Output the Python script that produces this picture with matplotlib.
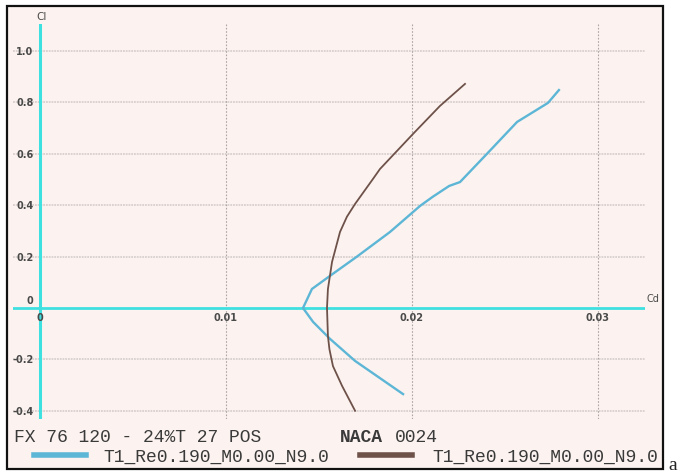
import matplotlib
matplotlib.use("Agg")
import matplotlib.pyplot as plt
from matplotlib.patches import Rectangle
from matplotlib.lines import Line2D

# ---- data ----
cd_fx = [0.01952, 0.01694, 0.01559, 0.01468, 0.01414, 0.01462, 0.01559, 0.01704,
         0.01882, 0.02043, 0.02110, 0.02200, 0.02258, 0.02403, 0.02565, 0.02731, 0.02790]
cl_fx = [-0.335, -0.206, -0.120, -0.054, 0.0, 0.074, 0.125, 0.200,
         0.296, 0.397, 0.432, 0.475, 0.490, 0.600, 0.724, 0.798, 0.848]

cd_naca = [0.01694, 0.01624, 0.01575, 0.01556, 0.01548, 0.01543, 0.01548, 0.01570,
           0.01613, 0.01650, 0.01694, 0.01790, 0.01828, 0.02005, 0.02150, 0.02285]
cl_naca = [-0.400, -0.303, -0.226, -0.160, -0.109, 0.0, 0.074, 0.179,
           0.296, 0.355, 0.405, 0.502, 0.541, 0.677, 0.786, 0.872]

xticks = [0.01, 0.02, 0.03]
xtick_labels = ["0.01", "0.02", "0.03"]
yticks = [-0.4, -0.2, 0.2, 0.4, 0.6, 0.8, 1.0]
ytick_labels = ["-0.4", "-0.2", "0.2", "0.4", "0.6", "0.8", "1.0"]

title_fx = "FX 76 120 - 24%T 27 POS"
title_naca_a = "NACA"
title_naca_b = "0024"
legend_label = "T1_Re0.190_M0.00_N9.0"

# ---- style ----
W, H = 679, 477
bg = "#FCF3F0"
blue = "#5DB6D6"
brown = "#6E524A"
cyan = "#3FE0E0"
gridh = "#D2CACA"
gridv = "#ADA5A5"
tickc = "#4A4A4A"

fig = plt.figure(figsize=(W / 100, H / 100), dpi=100)
fig.patch.set_facecolor("white")

def fx(px):
    return px / W

def fy(py):
    return 1 - py / H

# outer frame
frame = Rectangle((fx(7), fy(470)), fx(663) - fx(7), fy(7) - fy(470),
                  transform=fig.transFigure, facecolor=bg, edgecolor="#111111",
                  linewidth=1.6, zorder=-5)
fig.patches.append(frame)

# axes area in pixels
L, R, T, B = 13, 645, 25, 420
ax = fig.add_axes([fx(L), fy(B), (R - L) / W, (B - T) / H])
ax.set_zorder(2)
ax.set_facecolor("none")
for s in ax.spines.values():
    s.set_visible(False)

px_per_cd = 18600.0
px_per_cl = 257.0
x0, y0 = 40, 309
ax.set_xlim((L - x0) / px_per_cd, (R - x0) / px_per_cd)
ax.set_ylim((y0 - B) / px_per_cl, (y0 - T) / px_per_cl)
ax.set_xticks([])
ax.set_yticks([])

# grid
for yv in yticks:
    ax.axhline(yv, color=gridh, lw=1.1, ls=(0, (1.2, 0.6)), zorder=1)
for xv in xticks:
    ax.axvline(xv, color=gridv, lw=0.8, ls=(0, (1.5, 1.5)), zorder=1)

# axes lines
ax.axhline(0, color=cyan, lw=2.0, zorder=2)
ax.axvline(0, color=cyan, lw=2.2, zorder=2)

# curves
ax.plot(cd_fx, cl_fx, color=blue, lw=1.7, zorder=3)
ax.plot(cd_naca, cl_naca, color=brown, lw=1.3, zorder=3)

# tick labels
tkw = dict(fontsize=7, color=tickc, fontweight="bold", family="DejaVu Sans")
for yv, lab in zip(yticks, ytick_labels):
    ax.text(-0.00035, yv, lab, ha="right", va="center", **tkw)
ax.text(-0.00035, 0.012, "0", ha="right", va="bottom", **tkw)
ax.text(0.0, -0.016, "0", ha="center", va="top", **tkw)
for xv, lab in zip(xticks, xtick_labels):
    ax.text(xv, -0.016, lab, ha="center", va="top", **tkw)

# axis names
fig.text(fx(42), fy(17), "Cl", ha="center", va="center", fontsize=7.5,
         color=tickc, family="DejaVu Sans")
fig.text(fx(653), fy(299), "Cd", ha="center", va="center", fontsize=7,
         color=tickc, family="DejaVu Sans")

# legend / titles
mono = dict(family="Liberation Mono", fontsize=13, color="#3A3A3A")
fig.text(fx(14), fy(438), title_fx, ha="left", va="center", **mono)
fig.text(fx(340), fy(438), title_naca_a, ha="left", va="center",
         fontweight="bold", **mono)
fig.text(fx(395), fy(438), title_naca_b, ha="left", va="center", **mono)

fig.lines.append(Line2D([fx(34), fx(86)], [fy(456), fy(456)],
                        transform=fig.transFigure, color=blue, lw=4))
fig.text(fx(103), fy(457), legend_label, ha="left", va="center", **mono)
fig.lines.append(Line2D([fx(360), fx(412)], [fy(456), fy(456)],
                        transform=fig.transFigure, color=brown, lw=4))
fig.text(fx(432), fy(457), legend_label, ha="left", va="center", **mono)

fig.text(fx(668), fy(470), "a", ha="left", va="baseline",
         family="Liberation Serif", fontsize=14, color="#222222")

fig.savefig("out.png", dpi=100, facecolor="white")
